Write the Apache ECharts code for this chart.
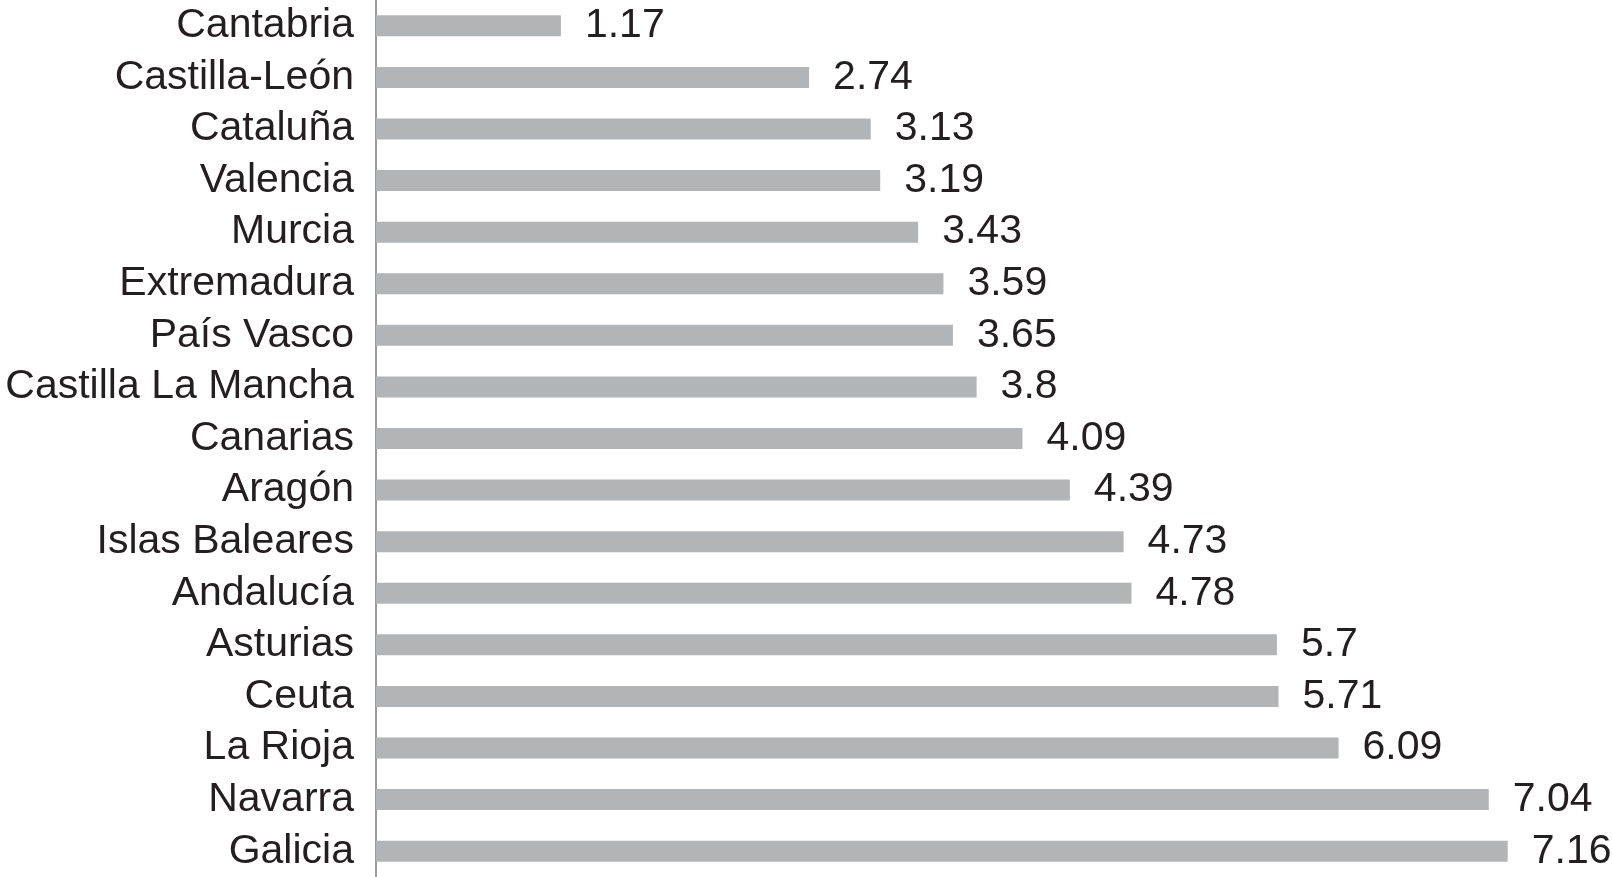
<!DOCTYPE html>
<html>
<head>
<meta charset="utf-8">
<script src="https://cdn.jsdelivr.net/npm/echarts@6/dist/echarts.min.js"></script>
<style>
  html, body { margin: 0; padding: 0; background: #fff; }
  #chart { width: 1612px; height: 877px; }
</style>
</head>
<body>
<div id="chart"></div>
<script>
// regiones, de arriba abajo
var regions = ["Cantabria", "Castilla-León", "Cataluña", "Valencia", "Murcia", "Extremadura",
  "País Vasco", "Castilla La Mancha", "Canarias", "Aragón", "Islas Baleares", "Andalucía",
  "Asturias", "Ceuta", "La Rioja", "Navarra", "Galicia"];
var values = [1.17, 2.74, 3.13, 3.19, 3.43, 3.59, 3.65, 3.8, 4.09, 4.39, 4.73, 4.78,
  5.7, 5.71, 6.09, 7.04, 7.16];

var myChart = echarts.init(document.getElementById("chart"));
var option = {
  animation: false,
  grid: { left: 376, right: 0, top: -2, bottom: -1, containLabel: false },
  xAxis: {
    type: "value",
    min: 0,
    max: 7.82,
    show: false
  },
  yAxis: {
    type: "category",
    data: regions,
    inverse: true,
    axisTick: { show: false },
    axisLine: { show: true, lineStyle: { color: "#9a9a9a", width: 2 } },
    axisLabel: {
      interval: 0,
      margin: 22,
      color: "#231f20",
      fontSize: 41,
      fontFamily: "Liberation Sans, Arial, sans-serif"
    }
  },
  series: [
    {
      type: "bar",
      data: values,
      barWidth: 21,
      itemStyle: { color: "#b3b4b6" },
      label: {
        show: true,
        position: "right",
        distance: 24,
        color: "#231f20",
        fontSize: 41,
        fontFamily: "Liberation Sans, Arial, sans-serif"
      }
    }
  ]
};
myChart.setOption(option);
</script>
</body>
</html>
